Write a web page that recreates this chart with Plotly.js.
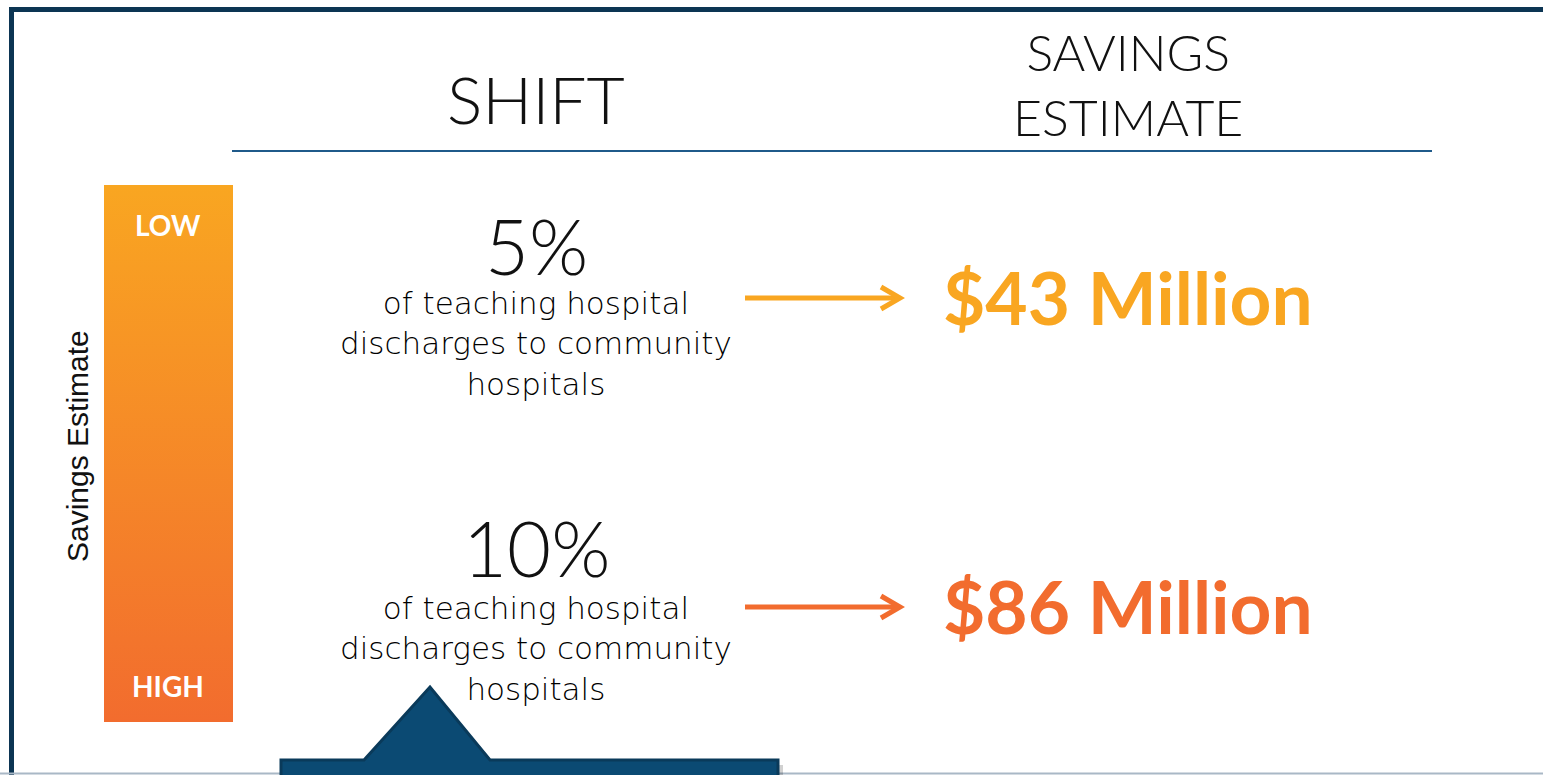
<!DOCTYPE html>
<html>
<head>
<meta charset="utf-8">
<script src="https://cdn.plot.ly/plotly-3.0.1.min.js"></script>
<style>html,body{margin:0;padding:0;background:#fff;}#chart{width:1543px;height:775px;}</style>
</head>
<body>
<div id="chart"></div>
<script>
// ---- data ----
const headers = ["SHIFT", "SAVINGS<br>ESTIMATE"];
const shiftPercents = [5, 10];
const shiftDescription = "of teaching hospital<br>discharges to community<br>hospitals";
const savingsMillions = [43, 86];
const levelLabels = ["LOW", "HIGH"];
const barTitle = "Savings Estimate";
const tierColors = ["#f9a621", "#f26c2e"];

// ---- layout geometry (page pixels) ----
const W = 1543, H = 775;
const shiftX = 536, savingsX = 1128;
const rowArrowY = [298, 607];
const rowPctY = [245, 547];
const rowDescY = [343, 648];
const barBox = {x0: 104, x1: 233, y0: 185, y1: 722};
const gothic = "Lato, 'Open Sans', sans-serif";
const wide = "'DejaVu Sans', Verdana, sans-serif";
const navy = "#0c3553";

const gradSvg = '<svg xmlns="http://www.w3.org/2000/svg" width="10" height="100" preserveAspectRatio="none">' +
  '<defs><linearGradient id="g" x1="0" y1="0" x2="0" y2="1">' +
  '<stop offset="0" stop-color="' + tierColors[0] + '"/><stop offset="1" stop-color="' + tierColors[1] + '"/>' +
  '</linearGradient></defs><rect width="10" height="100" fill="url(#g)"/></svg>';
const gradUri = "data:image/svg+xml;base64," + btoa(gradSvg);

const annotations = [];
const shapes = [];

// headers
annotations.push({x: shiftX, y: 98, text: headers[0], font: {family: gothic, size: 66, color: "#111", weight: 300}});
annotations.push({x: savingsX, y: 84, text: headers[1], font: {family: gothic, size: 50, color: "#111", weight: 300}});

// rows
shiftPercents.forEach((p, i) => {
  annotations.push({x: shiftX, y: rowPctY[i], text: p + "%", font: {family: gothic, size: 76, color: "#111", weight: 300}});
  annotations.push({x: shiftX, y: rowDescY[i], text: shiftDescription, font: {family: wide, size: 31, color: "#000", weight: 300}});
  annotations.push({x: savingsX, y: rowArrowY[i] - 1, text: "<b>$" + savingsMillions[i] + " Million</b>",
    font: {family: gothic, size: 73, color: tierColors[i]}});
  // arrow shaft + head
  shapes.push({type: "line", x0: 745, x1: 899, y0: rowArrowY[i], y1: rowArrowY[i], line: {color: tierColors[i], width: 5}});
  shapes.push({type: "path", path: `M 881 ${rowArrowY[i]-11} L 900 ${rowArrowY[i]} L 881 ${rowArrowY[i]+11}`,
    line: {color: tierColors[i], width: 5}});
});

// gradient bar labels
annotations.push({x: 168, y: 225, text: "<b>" + levelLabels[0] + "</b>", font: {family: gothic, size: 28, color: "#fff"}});
annotations.push({x: 168, y: 686, text: "<b>" + levelLabels[1] + "</b>", font: {family: gothic, size: 28, color: "#fff"}});
annotations.push({x: 77, y: 446, text: barTitle, textangle: -90, font: {family: "Liberation Sans, Arial, sans-serif", size: 30, color: "#111"}});

annotations.forEach(a => { a.xref = "x"; a.yref = "y"; a.showarrow = false; a.xanchor = "center"; a.yanchor = "middle"; });

// frame
shapes.push({type: "rect", x0: 9, x1: 14, y0: 7, y1: H, fillcolor: navy, line: {width: 0}, layer: "below"});
shapes.push({type: "rect", x0: 9, x1: W, y0: 7, y1: 12, fillcolor: navy, line: {width: 0}, layer: "below"});
shapes.push({type: "line", x0: 0, x1: W, y0: 773.5, y1: 773.5, line: {color: "#a9b8c6", width: 2}});
// header rule
shapes.push({type: "line", x0: 232, x1: 1432, y0: 151, y1: 151, line: {color: "#1f5a8a", width: 2}});
// bottom callout shadow + shape
shapes.push({type: "path", path: "M 286 780 L 286 765 L 368 765 L 434 692 L 496 765 L 783 765 L 783 780 Z",
  fillcolor: "rgba(0,0,0,0.18)", line: {width: 0}});
shapes.push({type: "path", path: "M 281 780 L 281 760 L 364 760 L 430 687 L 490 760 L 778 760 L 778 780 Z",
  fillcolor: "#0b4a73", line: {color: "#0a3a5a", width: 3}});

const layout = {
  width: W, height: H,
  margin: {l: 0, r: 0, t: 0, b: 0},
  paper_bgcolor: "#fff", plot_bgcolor: "#fff",
  showlegend: false,
  xaxis: {range: [0, W], visible: false, fixedrange: true},
  yaxis: {range: [H, 0], visible: false, fixedrange: true},
  annotations: annotations,
  shapes: shapes,
  images: [{source: gradUri, xref: "x", yref: "y", x: barBox.x0, y: barBox.y0,
    sizex: barBox.x1 - barBox.x0, sizey: barBox.y1 - barBox.y0, sizing: "stretch",
    xanchor: "left", yanchor: "top", layer: "below"}]
};

Plotly.newPlot("chart", [{type: "scatter", x: [], y: [], mode: "markers", hoverinfo: "skip"}], layout,
  {staticPlot: true, displayModeBar: false});
</script>
</body>
</html>
